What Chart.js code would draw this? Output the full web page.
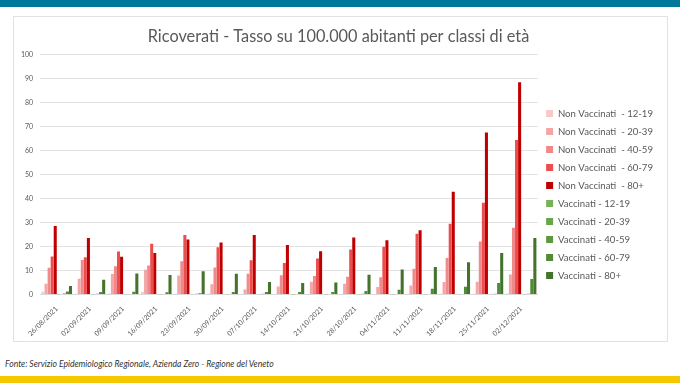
<!DOCTYPE html>
<html>
<head>
<meta charset="utf-8">
<script src="https://cdn.jsdelivr.net/npm/chart.js@4/dist/chart.umd.min.js"></script>
<style>
  html, body { margin: 0; padding: 0; background: #ffffff; width: 680px; height: 383px; overflow: hidden; }
  #topbar { position: absolute; left: 0; top: 0; width: 680px; height: 7px; background: #00789a; }
  #botbar { position: absolute; left: 0; top: 376px; width: 680px; height: 7px; background: #f5c800; }
  #box { position: absolute; left: 13px; top: 16px; width: 653px; height: 324px; border: 1px solid #e2e2e2; background: #fff; }
  #src { position: absolute; left: 5px; top: 359px; font-family: Lato, sans-serif; font-style: italic; font-size: 8.6px; color: #333; white-space: nowrap; }
</style>
</head>
<body>
<div id="topbar"></div>
<div id="box"><canvas id="c" width="653" height="324"></canvas></div>
<div id="src">Fonte: Servizio Epidemiologico Regionale, Azienda Zero - Regione del Veneto</div>
<div id="botbar"></div>
<script>
const categories = ["26/08/2021","02/09/2021","09/09/2021","16/09/2021","23/09/2021","30/09/2021","07/10/2021","14/10/2021","21/10/2021","28/10/2021","04/11/2021","11/11/2021","18/11/2021","25/11/2021","02/12/2021"];
const seriesNames = ["Non Vaccinati  - 12-19","Non Vaccinati  - 20-39","Non Vaccinati  - 40-59","Non Vaccinati  - 60-79","Non Vaccinati  - 80+","Vaccinati - 12-19","Vaccinati - 20-39","Vaccinati - 40-59","Vaccinati - 60-79","Vaccinati - 80+"];
const nv_12_19 = [1.2, 0.4, 0.5, 1.2, 0.4, 0.5, 0.3, 0.3, 0.3, 0.3, 0.3, 0.4, 0.4, 0.4, 0.5];
const nv_20_39 = [4.5, 6.6, 8.6, 10.4, 8.0, 4.3, 2.1, 3.4, 5.4, 4.5, 3.2, 3.8, 5.3, 5.4, 8.4];
const nv_40_59 = [11.2, 14.4, 11.8, 12.1, 13.9, 11.3, 8.7, 8.1, 7.8, 7.4, 7.2, 10.8, 15.3, 22.1, 27.9];
const nv_60_79 = [15.9, 15.6, 18.0, 21.2, 24.8, 19.7, 14.3, 13.2, 15.0, 18.8, 19.9, 25.4, 29.5, 38.3, 64.4];
const nv_80 = [28.6, 23.6, 15.8, 17.3, 23.0, 21.7, 24.8, 20.7, 18.1, 23.8, 22.6, 26.8, 42.8, 67.5, 88.5];
const v_12_19 = [0.1, 0.0, 0.0, 0.0, 0.0, 0.0, 0.0, 0.0, 0.0, 0.0, 0.0, 0.0, 0.0, 0.0, 0.0];
const v_20_39 = [0.3, 0.2, 0.2, 0.2, 0.3, 0.2, 0.2, 0.1, 0.1, 0.2, 0.1, 0.2, 0.2, 0.2, 0.2];
const v_40_59 = [0.5, 0.4, 0.3, 0.3, 0.4, 0.3, 0.4, 0.3, 0.3, 0.4, 0.3, 0.3, 0.3, 0.4, 0.4];
const v_60_79 = [1.3, 1.1, 1.2, 1.0, 0.6, 1.1, 1.1, 1.1, 1.1, 1.5, 2.0, 2.4, 3.3, 4.8, 6.5];
const v_80 = [3.6, 6.2, 8.8, 8.2, 9.7, 8.7, 5.3, 4.8, 5.1, 8.3, 10.5, 11.5, 13.5, 17.3, 23.6];
const yTicks = [0,10,20,30,40,50,60,70,80,90,100];

const seriesData = [nv_12_19, nv_20_39, nv_40_59, nv_60_79, nv_80, v_12_19, v_20_39, v_40_59, v_60_79, v_80];
const colors = ["#f6c9c9","#f4a5a5","#f08a8a","#ec4d4d","#c00000","#77b254","#6aa549","#5e973f","#528a37","#44732c"];

const datasets = seriesData.map((d, i) => ({
  label: seriesNames[i],
  data: d,
  backgroundColor: colors[i],
  borderWidth: 0,
  categoryPercentage: 0.92,
  barPercentage: 1.0
}));

new Chart(document.getElementById('c'), {
  type: 'bar',
  data: { labels: categories, datasets },
  options: {
    responsive: false,
    animation: false,
    devicePixelRatio: 1,
    layout: { padding: { left: 0, right: 4, top: 6, bottom: 1 } },
    plugins: {
      title: {
        display: true,
        text: 'Ricoverati - Tasso su 100.000 abitanti per classi di età',
        color: '#595959',
        font: { family: 'Lato', size: 16.3, weight: 'normal' },
        padding: { top: 4, bottom: 8 }
      },
      legend: {
        position: 'right',
        align: 'center',
        title: { display: true, text: ' ', font: { family: 'Lato', size: 10 }, padding: { top: 7, bottom: 7 } },
        labels: {
          boxWidth: 7, boxHeight: 7,
          padding: 8.4,
          color: '#595959',
          font: { family: 'Lato', size: 9.6 }
        }
      },
      tooltip: { enabled: false }
    },
    scales: {
      x: {
        grid: { display: false },
        border: { color: '#d9d9d9' },
        ticks: { color: '#595959', font: { family: 'Lato', size: 7 }, minRotation: 45, maxRotation: 45, padding: 2 }
      },
      y: {
        min: 0, max: 100,
        afterBuildTicks: (ax) => { ax.ticks = yTicks.map(v => ({ value: v })); },
        grid: { color: '#e3e3e3', drawTicks: false },
        border: { display: false },
        ticks: { color: '#595959', font: { family: 'Lato', size: 7 }, padding: 7 }
      }
    }
  }
});
</script>
</body>
</html>
